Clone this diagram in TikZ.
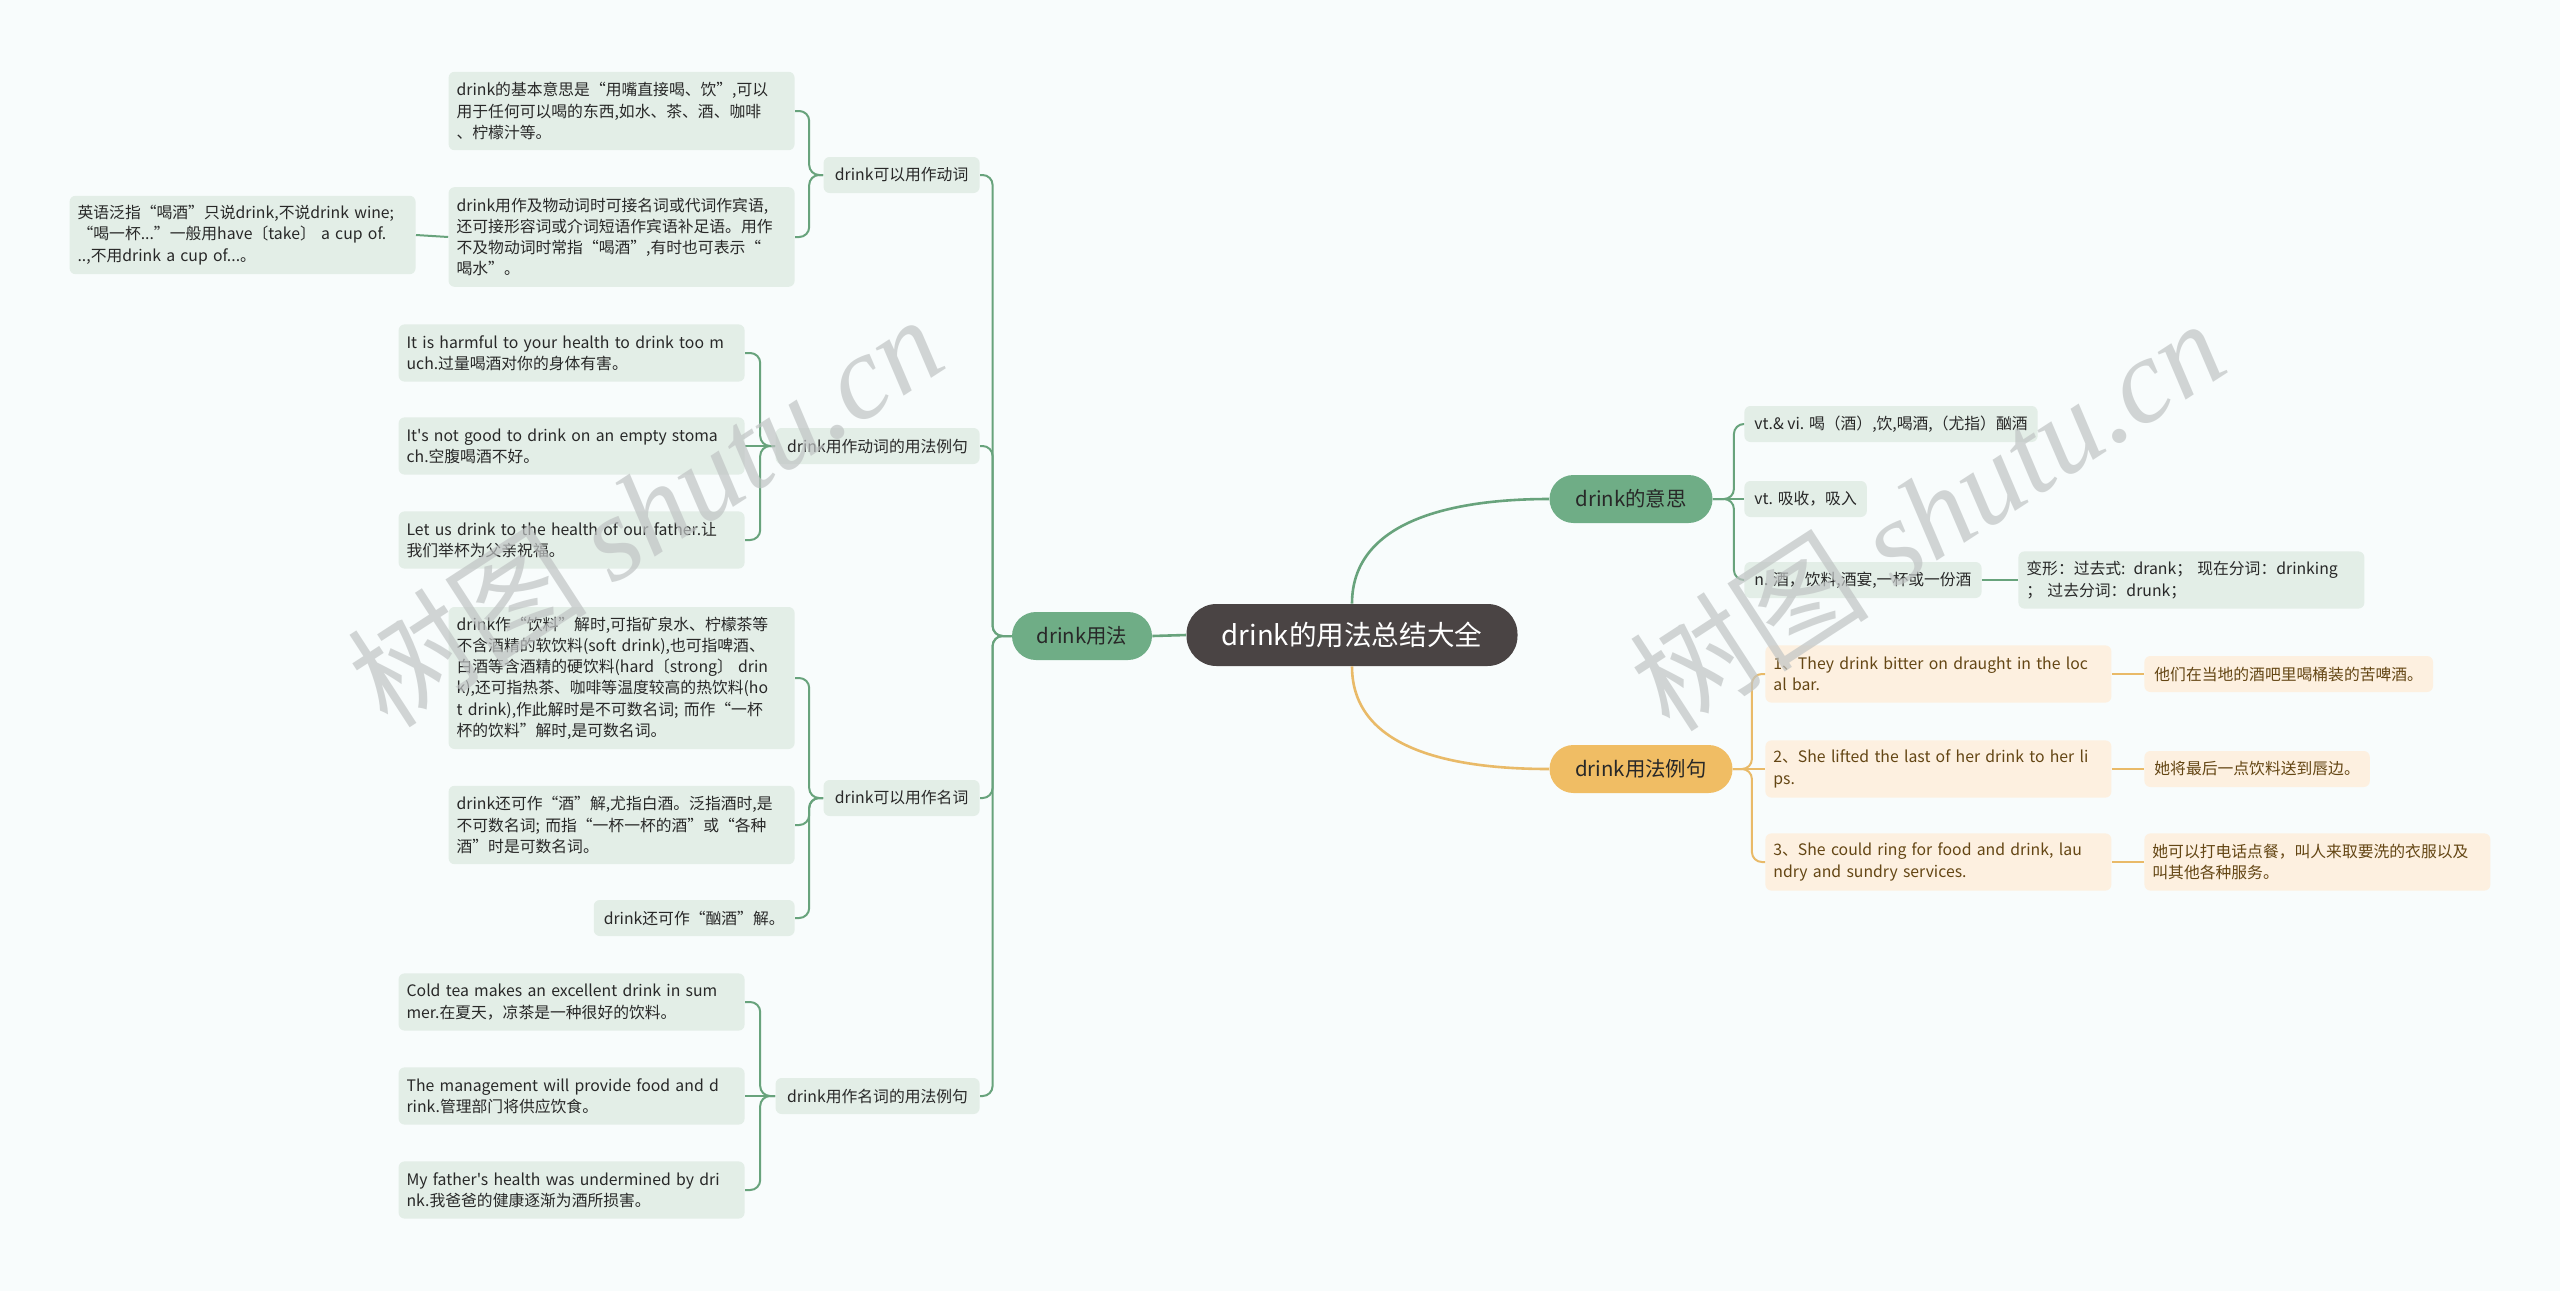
\documentclass[tikz,border=0pt]{standalone}
\usepackage{fontspec}
\setmainfont{Noto Sans CJK SC}[Ligatures=TeXOff]
\newfontfamily\markfont{Liberation Serif}
\usepackage{tikz}
\usetikzlibrary{positioning}

\definecolor{bgpaper}{RGB}{248,252,252}
\definecolor{rootgray}{RGB}{74,68,68}
\definecolor{topicgreen}{RGB}{111,173,134}
\definecolor{topicorange}{RGB}{240,189,100}
\definecolor{linegreen}{RGB}{104,163,124}
\definecolor{lineorange}{RGB}{233,186,104}
\definecolor{leafgreen}{RGB}{227,238,231}
\definecolor{leaforange}{RGB}{253,240,224}
\definecolor{inkdark}{RGB}{40,40,40}
\definecolor{inkbrown}{RGB}{100,70,20}
\definecolor{markgray}{RGB}{192,196,196}

\begin{document}
\begin{tikzpicture}[
  x=0.5pt, y=-0.5pt,
  rootbox/.style={fill=rootgray, text=white, rounded corners=15pt,
                  minimum width=165.5pt, minimum height=31pt, inner sep=0pt,
                  font=\fontsize{13.8pt}{16pt}\selectfont},
  topicbox/.style={fill=#1, text=inkdark, rounded corners=12pt,
                   minimum height=24pt, inner sep=0pt,
                   font=\fontsize{10.2pt}{12pt}\selectfont},
  subbox/.style={fill=leafgreen, text=inkdark, rounded corners=3pt,
                 minimum height=18pt, inner xsep=5pt, inner ysep=0pt,
                 font=\fontsize{7.9pt}{10.6pt}\selectfont},
  leafbox/.style={fill=leafgreen, text=inkdark, rounded corners=3pt,
                  align=left, text width=165pt, inner xsep=4pt, inner ysep=0pt,
                  font=\fontsize{7.9pt}{10.6pt}\selectfont},
  orangesub/.style={subbox, fill=leaforange, text=inkbrown},
  orangeleaf/.style={leafbox, fill=leaforange, text=inkbrown},
  nlines/.style={minimum height={#1*10.6pt+7.4pt}},
  link/.style={draw=linegreen, line width=1pt, rounded corners=5pt},
  toplink/.style={draw=#1, line width=1.3pt},
  watermark/.style={text=markgray, opacity=0.7, rotate=33, inner sep=0pt,
                    font=\fontsize{60pt}{60pt}\selectfont},
]
\useasboundingbox[fill=bgpaper] (0,0) rectangle (2560,1291);

% centre and main topics
\node[rootbox] (root) at (1352,635) {drink的用法总结大全};
\node[topicbox=topicgreen, minimum width=70pt] (usage) at (1082,636) {drink用法};
\node[topicbox=topicgreen, minimum width=81.5pt] (meaning) at (1631,499) {drink的意思};
\node[topicbox=topicorange, minimum width=91.5pt] (examples) at (1641,769) {drink用法例句};

% left side
\node[subbox, anchor=east, minimum width=78pt] (verb) at (980,175) {drink可以用作动词};
\node[subbox, anchor=east, minimum width=102pt] (verbex) at (980,446) {drink用作动词的用法例句};
\node[subbox, anchor=east, minimum width=78pt] (noun) at (980,798) {drink可以用作名词};
\node[subbox, anchor=east, minimum width=102pt] (nounex) at (980,1096) {drink用作名词的用法例句};

\node[leafbox, nlines=3, anchor=east] (verbbasic) at (795,111)
  {drink的基本意思是“用嘴直接喝、饮”,可以\\用于任何可以喝的东西,如水、茶、酒、咖啡\\、柠檬汁等。};
\node[leafbox, nlines=4, anchor=east] (verbobj) at (795,237)
  {drink用作及物动词时可接名词或代词作宾语,\\还可接形容词或介词短语作宾语补足语。用作\\不及物动词时常指“喝酒”,有时也可表示“\\喝水”。};
\node[leafbox, nlines=3, anchor=east] (winenote) at (416,235)
  {英语泛指“喝酒”只说drink,不说drink wine;\\“喝一杯...”一般用have〔take〕 a cup of.\\..,不用drink a cup of...。};

\node[leafbox, nlines=2, anchor=east] (verbex1) at (745,353)
  {It is harmful to your health to drink too m\\uch.过量喝酒对你的身体有害。};
\node[leafbox, nlines=2, anchor=east] (verbex2) at (745,446)
  {It's not good to drink on an empty stoma\\ch.空腹喝酒不好。};
\node[leafbox, nlines=2, anchor=east] (verbex3) at (745,540)
  {Let us drink to the health of our father.让\\我们举杯为父亲祝福。};

\node[leafbox, nlines=6, anchor=east] (nounbev) at (795,678)
  {drink作“饮料”解时,可指矿泉水、柠檬茶等\\不含酒精的软饮料(soft drink),也可指啤酒、\\白酒等含酒精的硬饮料(hard〔strong〕 drin\\k),还可指热茶、咖啡等温度较高的热饮料(ho\\t drink),作此解时是不可数名词; 而作“一杯\\杯的饮料”解时,是可数名词。};
\node[leafbox, nlines=3, anchor=east] (nounwine) at (795,825)
  {drink还可作“酒”解,尤指白酒。泛指酒时,是\\不可数名词; 而指“一杯一杯的酒”或“各种\\酒”时是可数名词。};
\node[subbox, anchor=east] (nounbinge) at (795,918) {drink还可作“酗酒”解。};

\node[leafbox, nlines=2, anchor=east] (nounex1) at (745,1002)
  {Cold tea makes an excellent drink in sum\\mer.在夏天，凉茶是一种很好的饮料。};
\node[leafbox, nlines=2, anchor=east] (nounex2) at (745,1096)
  {The management will provide food and d\\rink.管理部门将供应饮食。};
\node[leafbox, nlines=2, anchor=east] (nounex3) at (745,1190)
  {My father's health was undermined by dri\\nk.我爸爸的健康逐渐为酒所损害。};

% right side
\node[subbox, anchor=west] (mdrink) at (1744,424) {vt.\& vi. 喝（酒）,饮,喝酒,（尤指）酗酒};
\node[subbox, anchor=west] (mabsorb) at (1744,499) {vt. 吸收，吸入};
\node[subbox, anchor=west] (mnoun) at (1744,580) {n. 酒，饮料,酒宴,一杯或一份酒};
\node[leafbox, nlines=2, anchor=west] (mforms) at (2018,580)
  {变形：过去式: drank； 现在分词：drinking\\； 过去分词：drunk；};

\node[orangeleaf, nlines=2, anchor=west] (ex1) at (1765,674)
  {1、They drink bitter on draught in the loc\\al bar.};
\node[orangeleaf, nlines=2, anchor=west] (ex2) at (1765,769)
  {2、She lifted the last of her drink to her li\\ps.};
\node[orangeleaf, nlines=2, anchor=west] (ex3) at (1765,862)
  {3、She could ring for food and drink, lau\\ndry and sundry services.};
\node[orangesub, anchor=west] (tr1) at (2144,674) {他们在当地的酒吧里喝桶装的苦啤酒。};
\node[orangesub, anchor=west] (tr2) at (2144,769) {她将最后一点饮料送到唇边。};
\node[orangeleaf, nlines=2, anchor=west] (tr3) at (2144,862)
  {她可以打电话点餐，叫人来取要洗的衣服以及\\叫其他各种服务。};

% connectors
\draw[toplink=linegreen] (root.west) -- (usage.east);
\draw[toplink=linegreen] (root.north) to[out=90, in=180] (meaning.west);
\draw[toplink=lineorange] (root.south) to[out=-90, in=180] (examples.west);

\foreach \kid in {verb, verbex, noun, nounex}
  \draw[link] (usage.west) -- ++(-19,0) |- (\kid.east);
\foreach \kid in {verbbasic, verbobj}
  \draw[link] (verb.west) -- ++(-14,0) |- (\kid.east);
\draw[link] (verbobj.west) -- (winenote.east);
\foreach \kid in {verbex1, verbex3}
  \draw[link] (verbex.west) -- ++(-15,0) |- (\kid.east);
\draw[link] (verbex.west) -- (verbex2.east);
\foreach \kid in {nounbev, nounwine, nounbinge}
  \draw[link] (noun.west) -- ++(-14,0) |- (\kid.east);
\foreach \kid in {nounex1, nounex3}
  \draw[link] (nounex.west) -- ++(-15,0) |- (\kid.east);
\draw[link] (nounex.west) -- (nounex2.east);

\foreach \kid in {mdrink, mnoun}
  \draw[link] (meaning.east) -- ++(21,0) |- (\kid.west);
\draw[link] (meaning.east) -- (mabsorb.west);
\draw[link] (mnoun.east) -- (mforms.west);

\foreach \kid in {ex1, ex3}
  \draw[link, draw=lineorange] (examples.east) -- ++(19,0) |- (\kid.west);
\draw[link, draw=lineorange] (examples.east) -- (ex2.west);
\draw[link, draw=lineorange] (ex1.east) -- (tr1.west);
\draw[link, draw=lineorange] (ex2.east) -- (tr2.west);
\draw[link, draw=lineorange] (ex3.east) -- (tr3.west);

% watermarks
\node[watermark] (markleft) at (645,510) {树图 {\markfont\itshape shutu.cn}};
\node[watermark] (markright) at (1927,514) {树图 {\markfont\itshape shutu.cn}};
\end{tikzpicture}
\end{document}
